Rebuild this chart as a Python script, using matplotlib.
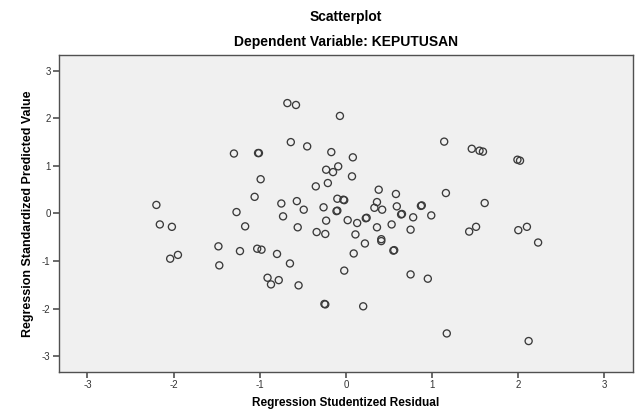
import matplotlib
matplotlib.use("Agg")
import matplotlib.pyplot as plt

plt.rcParams['font.family'] = ['Liberation Sans', 'DejaVu Sans']

residual = [
    -0.68, -0.58, -0.07, -0.64, -0.45, -1.30, -1.02, -1.01, -0.17, 0.08,
    -0.23, -0.09, -0.15, 0.07, -0.99, -0.35, -0.21, -1.06, -0.10, -0.03,
    -0.02, -0.75, -0.57, -0.49, -0.26, -0.11, -0.10, -2.20, -1.27, -0.73,
    -0.23, 0.02, 0.13, -2.16, -2.02, -1.17, -0.56, -0.34, -0.24, 0.11,
    1.14, 1.46, 1.55, 1.59, 1.99, 2.02, 0.38, 0.58, 1.16, 1.61,
    0.36, 0.33, 0.42, 0.59, 0.87, 0.88, 0.23, 0.24, 0.64, 0.65,
    0.78, 0.99, 0.36, 0.53, 0.75, 1.43, 1.51, 2.00, 2.10, 2.23,
    0.41, -1.48, -1.23, -1.03, -0.98, -0.80, -2.04, -1.95, -1.47, -0.65,
    0.09, -0.02, -0.91, -0.78, -0.87, -0.55, -0.25, -0.24, 0.20, 0.22,
    0.41, 0.55, 0.56, 0.75, 0.95, 1.17, 2.12,
]
predicted = [
    2.32, 2.28, 2.05, 1.50, 1.41, 1.26, 1.27, 1.27, 1.29, 1.18,
    0.92, 0.99, 0.87, 0.78, 0.72, 0.57, 0.64, 0.35, 0.31, 0.29,
    0.28, 0.21, 0.26, 0.08, 0.13, 0.05, 0.06, 0.18, 0.03, -0.06,
    -0.15, -0.14, -0.20, -0.23, -0.28, -0.27, -0.29, -0.39, -0.43, -0.44,
    1.51, 1.36, 1.32, 1.30, 1.13, 1.11, 0.50, 0.41, 0.43, 0.22,
    0.24, 0.12, 0.08, 0.15, 0.16, 0.17, -0.10, -0.09, -0.02, -0.01,
    -0.08, -0.04, -0.29, -0.23, -0.34, -0.38, -0.28, -0.35, -0.28, -0.61,
    -0.54, -0.69, -0.79, -0.74, -0.76, -0.85, -0.95, -0.87, -1.09, -1.05,
    -0.84, -1.20, -1.35, -1.40, -1.49, -1.51, -1.90, -1.91, -1.95, -0.63,
    -0.58, -0.78, -0.77, -1.28, -1.37, -2.52, -2.68,
]
ticks = [-3, -2, -1, 0, 1, 2, 3]

fig = plt.figure(figsize=(6.38, 4.09), dpi=100)
ax = fig.add_axes([0.0925, 0.0905, 0.8995, 0.775])
ax.set_facecolor('#f0f0f0')
ax.scatter(residual, predicted, s=26, facecolors='none', edgecolors='#3a3a3a',
           linewidths=0.95, zorder=3)
ax.set_xlim(-3.33, 3.33)
ax.set_ylim(-3.33, 3.33)
ax.set_xticks(ticks)
ax.set_yticks(ticks)
ax.set_xticklabels([str(t) for t in ticks])
ax.set_yticklabels([str(t) for t in ticks])
for s in ax.spines.values():
    s.set_color('#505050')
    s.set_linewidth(1.0)
ax.tick_params(direction='out', length=4, width=1.2, color='#505050',
               labelsize=7, labelcolor='#333333', pad=2)
ax.set_xlabel('Regression Studentized Residual', fontsize=8.5, fontweight='bold',
              labelpad=5)
ax.set_ylabel('Regression Standardized Predicted Value', fontsize=9,
              fontweight='bold', labelpad=6)
fig.text(0.542, 0.958, 'Scatterplot', ha='center', va='center', fontsize=10,
         fontweight='bold')
fig.text(0.542, 0.897, 'Dependent Variable: KEPUTUSAN', ha='center', va='center',
         fontsize=10, fontweight='bold')
fig.savefig('out.png', dpi=100)
